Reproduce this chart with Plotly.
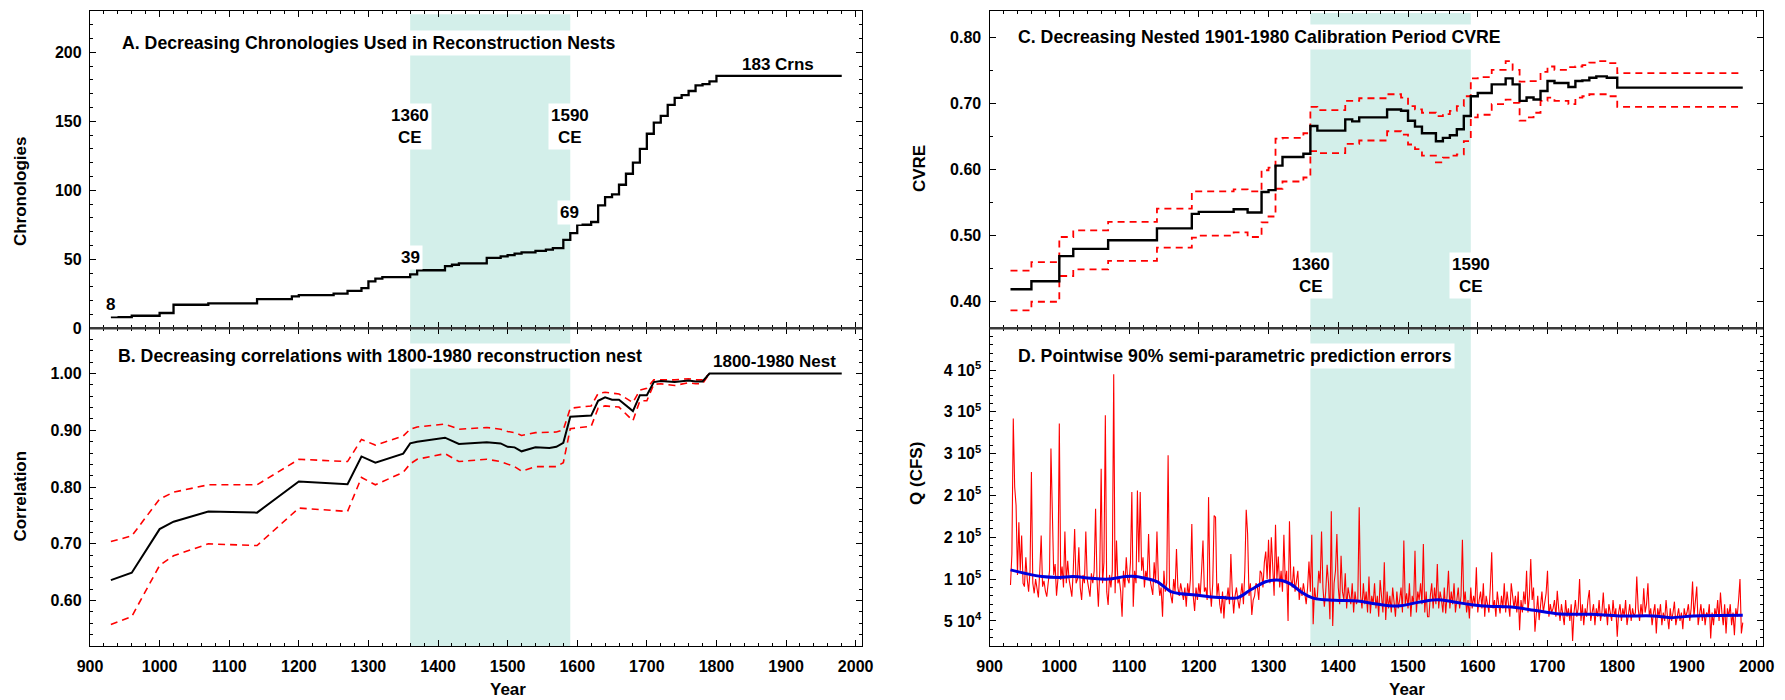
import plotly.graph_objects as go

# ---------------- Panel A: chronologies per nest ----------------
nest_years_a = [930, 960, 1000, 1020, 1070, 1140, 1190, 1200, 1250, 1270,
                1290, 1300, 1310, 1320, 1360, 1370, 1410, 1420, 1430, 1470,
                1490, 1500, 1510, 1520, 1540, 1555, 1565, 1580, 1590, 1600,
                1620, 1630, 1640, 1650, 1660, 1670, 1680, 1690, 1700, 1710,
                1720, 1730, 1740, 1750, 1760, 1770, 1780, 1790, 1800, 1980]
n_chron = [8, 9, 11, 17, 18, 21, 23, 24, 25, 27,
           29, 34, 36, 37, 39, 42, 45, 46, 47, 51,
           52, 53, 54, 55, 56, 57, 58, 64, 69, 75,
           77, 89, 95, 97, 104, 112, 120, 130, 141, 149,
           154, 162, 167, 169, 172, 176, 177, 179, 183, 183]

# ---------------- Panel B: correlation with 1800-1980 nest ----------------
years_b = [930, 960, 1000, 1020, 1070, 1140, 1200, 1270, 1290, 1310,
           1350, 1360, 1370, 1410, 1430, 1470, 1490, 1500, 1510, 1520,
           1540, 1560, 1570, 1580, 1590, 1620, 1630, 1640, 1650, 1660,
           1680, 1690, 1700, 1710, 1720, 1740, 1760, 1770, 1780, 1790,
           1980]
corr_b = [0.636, 0.649, 0.726, 0.739, 0.757, 0.755, 0.810, 0.805, 0.854, 0.843,
          0.859, 0.877, 0.880, 0.887, 0.876, 0.879, 0.877, 0.871, 0.870, 0.863,
          0.870, 0.869, 0.871, 0.878, 0.924, 0.926, 0.952, 0.958, 0.954, 0.954,
          0.934, 0.962, 0.962, 0.985, 0.987, 0.985, 0.988, 0.986, 0.986, 1.000,
          1.000]
corr_hi = [0.704, 0.714, 0.779, 0.791, 0.804, 0.804, 0.849, 0.845, 0.884, 0.874,
           0.890, 0.902, 0.906, 0.911, 0.902, 0.905, 0.902, 0.898, 0.896, 0.891,
           0.896, 0.896, 0.897, 0.901, 0.939, 0.943, 0.965, 0.967, 0.965, 0.964,
           0.949, 0.971, 0.974, 0.989, 0.989, 0.989, 0.991, 0.989, 0.989, 1.000]
corr_lo = [0.558, 0.572, 0.662, 0.679, 0.700, 0.697, 0.763, 0.757, 0.817, 0.804,
           0.826, 0.841, 0.849, 0.859, 0.845, 0.849, 0.845, 0.841, 0.836, 0.828,
           0.836, 0.836, 0.836, 0.843, 0.903, 0.907, 0.939, 0.943, 0.942, 0.941,
           0.917, 0.952, 0.952, 0.981, 0.982, 0.979, 0.984, 0.982, 0.982, 1.000]

# ---------------- Panel C: calibration CVRE ----------------
years_c = [930, 960, 1000, 1020, 1070, 1140, 1190, 1200, 1250, 1270,
           1290, 1300, 1310, 1320, 1350, 1360, 1370, 1410, 1420, 1430,
           1470, 1490, 1500, 1510, 1520, 1540, 1550, 1560, 1570, 1580,
           1590, 1600, 1620, 1640, 1650, 1660, 1670, 1680, 1690, 1700,
           1710, 1730, 1740, 1750, 1760, 1770, 1785, 1800, 1980]
cvre = [0.419, 0.431, 0.469, 0.480, 0.493, 0.511, 0.533, 0.536, 0.540, 0.535,
        0.566, 0.569, 0.606, 0.619, 0.624, 0.666, 0.659, 0.676, 0.673, 0.679,
        0.691, 0.689, 0.674, 0.665, 0.655, 0.643, 0.648, 0.652, 0.661, 0.681,
        0.711, 0.716, 0.729, 0.738, 0.729, 0.704, 0.709, 0.706, 0.719, 0.734,
        0.731, 0.725, 0.734, 0.735, 0.739, 0.741, 0.739, 0.724, 0.724]
cvre_hi = [0.447, 0.460, 0.498, 0.508, 0.521, 0.541, 0.567, 0.567, 0.570, 0.567,
           0.599, 0.603, 0.647, 0.648, 0.655, 0.695, 0.690, 0.704, 0.704, 0.708,
           0.714, 0.709, 0.696, 0.691, 0.686, 0.681, 0.684, 0.689, 0.696, 0.711,
           0.738, 0.740, 0.751, 0.764, 0.751, 0.733, 0.734, 0.734, 0.748, 0.756,
           0.751, 0.755, 0.756, 0.758, 0.762, 0.764, 0.761, 0.746, 0.746]
cvre_lo = [0.387, 0.400, 0.439, 0.449, 0.462, 0.482, 0.497, 0.500, 0.505, 0.498,
           0.520, 0.529, 0.571, 0.582, 0.588, 0.628, 0.625, 0.639, 0.639, 0.644,
           0.658, 0.653, 0.638, 0.631, 0.621, 0.611, 0.618, 0.621, 0.623, 0.643,
           0.679, 0.683, 0.699, 0.706, 0.701, 0.674, 0.679, 0.686, 0.704, 0.709,
           0.704, 0.699, 0.709, 0.711, 0.714, 0.714, 0.711, 0.695, 0.695]

# ---------------- Panel D: prediction errors (thousand CFS) ----------------
years_d = list(range(930, 1981, 2))
q_err_k = [
    93, 130, 292, 210, 188,   105, 168, 110, 152, 95,    91, 126, 100, 85, 110,
    228, 95, 83, 100, 90,     78, 110, 152, 91, 98,      86, 79, 95, 110, 256,
    156, 105, 118, 80, 100,   286, 99, 115, 90, 157,     95, 122, 100, 88, 79,
    110, 160, 95, 100, 138,   90, 75, 105, 95, 157,      100, 90, 79, 107, 95,
    110, 184, 100, 67, 110,   232, 95, 120, 296, 85,     69, 105, 90, 110, 345,
    83, 146, 95, 100, 85,     55, 110, 90, 126, 100,     95, 120, 204, 67, 110,
    95, 206, 120, 204, 110,   126, 90, 110, 100, 154,    100, 90, 81, 120, 95,
    157, 100, 80, 90, 55,     110, 85, 95, 248, 90,      80, 71, 100, 85, 136,
    90, 80, 95, 85, 75,       90, 67, 95, 80, 100,       166, 80, 62, 90, 75,
    95, 80, 110, 146, 85,     90, 75, 198, 90, 67,       95, 176, 174, 80, 95,
    70, 59, 85, 53, 80,       75, 90, 70, 130, 85,       59, 80, 90, 75, 65,
    80, 95, 70, 110, 183,     154, 80, 95, 57, 75,       80, 95, 91, 75, 110,
    107, 90, 120, 133, 100,   147, 95, 150, 110, 80,     165, 100, 127, 90, 110,
    85, 153, 95, 110, 50,     169, 100, 90, 115, 85,     95, 110, 75, 90, 80,
    95, 83, 70, 90, 121,      85, 153, 46, 90, 75,       79, 110, 95, 157, 90,
    67, 85, 117, 95, 52,      181, 44, 95, 110, 154,     90, 70, 128, 85, 75,
    107, 65, 90, 80, 70,      95, 60, 85, 70, 75,        186, 80, 65, 95, 70,
    85, 60, 103, 59, 80,      70, 95, 65, 80, 55,        99, 75, 60, 120, 51,
    85, 65, 80, 60, 90,       70, 55, 85, 65, 75,        90, 60, 146, 70, 83,
    65, 95, 55, 80, 70,       134, 60, 85, 75, 95,       70, 142, 60, 85, 55,
    55, 80, 95, 65, 90,       70, 118, 65, 85, 75,       60, 90, 59, 80, 110,
    65, 85, 70, 95, 60,       75, 90, 65, 80, 147,       70, 85, 60, 75, 53,
    90, 65, 80, 70, 114,      60, 75, 85, 65, 95,        55, 80, 70, 60, 90,
    132, 65, 75, 55, 85,      70, 59, 80, 65, 95,        60, 85, 70, 55, 95,
    75, 65, 80, 60, 85,       39, 75, 60, 85, 70,        110, 60, 80, 124, 75,
    90, 37, 65, 80, 51,       70, 85, 60, 75, 83,        110, 55, 70, 60, 65,
    75, 55, 86, 65, 50,       70, 60, 45, 75, 55,        65, 50, 70, 26, 60,
    75, 55, 65, 100, 50,      70, 45, 65, 55, 75,        87, 50, 60, 70, 45,
    65, 55, 75, 50, 60,       84, 55, 65, 45, 70,        60, 50, 75, 55, 65,
    31, 60, 70, 50, 65,       55, 75, 45, 60, 70,        50, 65, 55, 60, 103,
    65, 50, 70, 55, 89,       60, 70, 95, 55, 65,        45, 60, 70, 35, 65,
    55, 70, 45, 60, 50,       75, 55, 40, 65, 50,        60, 73, 45, 55, 65,
    50, 60, 40, 65, 55,       60, 70, 50, 65, 97,        55, 70, 91, 45, 60,
    70, 50, 65, 45, 60,       55, 70, 29, 60, 45,        65, 55, 75, 50, 84,
    60, 45, 70, 35, 65,       55, 70, 45, 60, 33,        65, 55, 75, 100, 35,
    48]
years_smooth = [930, 950, 975, 1000, 1020, 1045, 1070, 1095, 1110, 1120,
                1140, 1160, 1175, 1195, 1215, 1235, 1255, 1275, 1298, 1317,
                1332, 1346, 1365, 1395, 1428, 1452, 1485, 1517, 1542, 1566,
                1591, 1615, 1648, 1681, 1713, 1762, 1803, 1852, 1876, 1909,
                1980]
q_smooth_k = [111, 107, 103, 102, 103, 101, 100, 103, 103, 101.5,
              97, 85, 82.5, 81, 79, 78, 77.5, 87.5, 97.4, 98.6,
              94, 85, 77, 74.7, 73.8, 70.6, 67.8, 72.6, 75.4, 72.6,
              69.4, 67.4, 66.6, 62.7, 58.7, 57.9, 55.9, 55.9, 53.9, 55.9,
              56.7]
q_tickvals = [50, 100, 150, 200, 250, 300, 350]
q_ticktext = ["5 10<sup>4</sup>", "1 10<sup>5</sup>", "2 10<sup>5</sup>", "2 10<sup>5</sup>",
              "3 10<sup>5</sup>", "3 10<sup>5</sup>", "4 10<sup>5</sup>"]

FONT = "Liberation Sans, Arial, Helvetica, sans-serif"
RED = "#ff0000"

fig = go.Figure()
# A
fig.add_trace(go.Scatter(x=nest_years_a, y=n_chron, mode="lines", line=dict(color="black", width=2.3, shape="hv"),
                         xaxis="x", yaxis="y", showlegend=False))
# B
fig.add_trace(go.Scatter(x=years_b[:len(corr_hi)], y=corr_hi, mode="lines", line=dict(color=RED, width=1.6, dash="7px,5px"),
                         xaxis="x3", yaxis="y3", showlegend=False))
fig.add_trace(go.Scatter(x=years_b[:len(corr_lo)], y=corr_lo, mode="lines", line=dict(color=RED, width=1.6, dash="7px,5px"),
                         xaxis="x3", yaxis="y3", showlegend=False))
fig.add_trace(go.Scatter(x=years_b, y=corr_b, mode="lines", line=dict(color="black", width=2),
                         xaxis="x3", yaxis="y3", showlegend=False))
# C
fig.add_trace(go.Scatter(x=years_c, y=cvre_hi, mode="lines", line=dict(color=RED, width=1.8, dash="7px,5px", shape="hv"),
                         xaxis="x2", yaxis="y2", showlegend=False))
fig.add_trace(go.Scatter(x=years_c, y=cvre_lo, mode="lines", line=dict(color=RED, width=1.8, dash="7px,5px", shape="hv"),
                         xaxis="x2", yaxis="y2", showlegend=False))
fig.add_trace(go.Scatter(x=years_c, y=cvre, mode="lines", line=dict(color="black", width=2.4, shape="hv"),
                         xaxis="x2", yaxis="y2", showlegend=False))
# D
n = min(len(years_d), len(q_err_k))
fig.add_trace(go.Scatter(x=years_d[:n], y=q_err_k[:n], mode="lines", line=dict(color=RED, width=1.1),
                         xaxis="x4", yaxis="y4", showlegend=False))
fig.add_trace(go.Scatter(x=years_smooth, y=q_smooth_k, mode="lines", line=dict(color="#0000dd", width=3, shape="spline"),
                         xaxis="x4", yaxis="y4", showlegend=False))

LW = 1.3
base = dict(showline=True, linecolor="black", linewidth=LW, mirror="ticks",
            ticks="inside", ticklen=6, tickwidth=1.2, tickcolor="black",
            showgrid=False, zeroline=False,
            tickfont=dict(family=FONT, size=16, color="black", weight="bold"))


def xax(domain, anchor, labels):
    d = dict(base)
    d.update(domain=domain, anchor=anchor, range=[900, 2009], tick0=900, dtick=100,
             showticklabels=labels, ticklabelstandoff=6,
             minor=dict(ticks="inside", ticklen=3, tickwidth=1, tickcolor="black", dtick=20, tick0=900, showgrid=False))
    return d


def yax(domain, anchor, rng, dtick, mdtick, tick0, fmt=None):
    d = dict(base)
    d.update(domain=domain, anchor=anchor, range=rng, dtick=dtick, tick0=tick0, ticklabelstandoff=4,
             minor=dict(ticks="inside", ticklen=3, tickwidth=1, tickcolor="black", dtick=mdtick, tick0=tick0, showgrid=False))
    if fmt:
        d["tickformat"] = fmt
    return d


LX = [0, 0.4614]
RX = [0.5377, 1]
TOPY = [0.5005, 1]
BOTY = [0, 0.5005]

yD = dict(base)
yD.update(domain=BOTY, anchor="x4", range=[20, 400], tickmode="array", tickvals=q_tickvals, ticktext=q_ticktext,
          ticklabelstandoff=4,
          minor=dict(ticks="inside", ticklen=3, tickwidth=1, tickcolor="black", tickmode="linear", dtick=10, tick0=0, showgrid=False))

fig.update_layout(
    width=1785, height=700,
    margin=dict(l=90, r=13, t=10, b=54),
    paper_bgcolor="white", plot_bgcolor="white",
    font=dict(family=FONT, size=16, color="black", weight="bold"),
    xaxis=xax(LX, "y", False),
    yaxis=yax(TOPY, "x", [0, 230], 50, 10, 0),
    xaxis3=xax(LX, "y3", True),
    yaxis3=yax(BOTY, "x3", [0.52, 1.08], 0.1, 0.02, 0, ".2f"),
    xaxis2=xax(RX, "y2", False),
    yaxis2=yax(TOPY, "x2", [0.36, 0.84], 0.1, 0.05, 0, ".2f"),
    xaxis4=xax(RX, "y4", True),
    yaxis4=yD,
)

BAND = "#d3efea"
shapes = [
    dict(type="rect", xref="x", yref="paper", x0=1360, x1=1590, y0=0, y1=0.995, fillcolor=BAND, line=dict(width=0), layer="below"),
    dict(type="rect", xref="x2", yref="paper", x0=1360, x1=1590, y0=0, y1=0.997, fillcolor=BAND, line=dict(width=0), layer="below"),
    dict(type="line", xref="paper", yref="paper", x0=0, x1=0.4614, y0=0.5005, y1=0.5005, line=dict(color="#3a3a3a", width=2.6)),
    dict(type="line", xref="paper", yref="paper", x0=0.5377, x1=1, y0=0.5005, y1=0.5005, line=dict(color="#3a3a3a", width=2.6)),
]
fig.update_layout(shapes=shapes)


def ann(x, y, text, xref, yref, xanchor="center", bg="white", angle=0, size=17):
    return dict(x=x, y=y, text=text, xref=xref, yref=yref, xanchor=xanchor, yanchor="middle",
                showarrow=False, bgcolor=bg, borderpad=2, textangle=angle,
                font=dict(family=FONT, size=size, color="black", weight="bold"))


TS = 17.7
annotations = [
    # Panel A
    ann(941, 207, "A. Decreasing Chronologies Used in Reconstruction Nests", "x", "y", "left", size=TS),
    ann(930, 17.2, "8", "x", "y"),
    ann(1360, 51.4, "39", "x", "y"),
    ann(1589, 84, "69", "x", "y"),
    ann(1360, 146, "1360<br>CE", "x", "y"),
    ann(1590, 146, "1590<br>CE", "x", "y"),
    ann(1888, 191.4, "183 Crns", "x", "y", bg="rgba(0,0,0,0)"),
    # Panel B
    ann(936, 1.031, "B. Decreasing correlations with 1800-1980 reconstruction nest", "x3", "y3", "left", size=TS),
    ann(1884, 1.022, "1800-1980 Nest", "x3", "y3", bg="rgba(0,0,0,0)"),
    # Panel C
    ann(937, 0.800, "C. Decreasing Nested 1901-1980 Calibration Period CVRE", "x2", "y2", "left", size=TS),
    ann(1361, 0.440, "1360<br>CE", "x2", "y2"),
    ann(1590, 0.440, "1590<br>CE", "x2", "y2"),
    # Panel D
    ann(937, 367, "D. Pointwise 90% semi-parametric prediction errors", "x4", "y4", "left", size=TS),
    # axis titles
    ann(-0.0416, 0.717, "Chronologies", "paper", "paper", bg="rgba(0,0,0,0)", angle=-90),
    ann(-0.0416, 0.236, "Correlation", "paper", "paper", bg="rgba(0,0,0,0)", angle=-90),
    ann(0.4959, 0.752, "CVRE", "paper", "paper", bg="rgba(0,0,0,0)", angle=-90),
    ann(0.4941, 0.272, "Q (CFS)", "paper", "paper", bg="rgba(0,0,0,0)", angle=-90),
    ann(0.2497, -0.069, "Year", "paper", "paper", bg="rgba(0,0,0,0)"),
    ann(0.7873, -0.069, "Year", "paper", "paper", bg="rgba(0,0,0,0)"),
]
fig.update_layout(annotations=annotations)

fig.write_html("out.html",
               config={"displayModeBar": False},
               post_script="document.body.style.margin='0';document.body.style.padding='0';"
                           "document.documentElement.style.overflow='hidden';")
